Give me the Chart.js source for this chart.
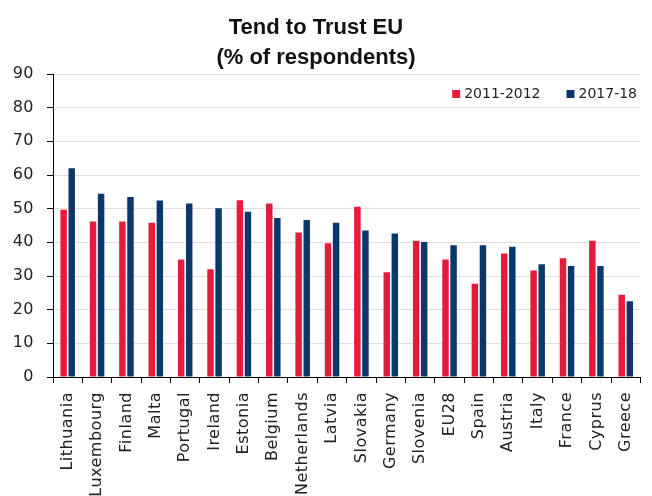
<!DOCTYPE html>
<html lang="en">
<head>
  <meta charset="UTF-8" />
  <title>Tend to Trust EU</title>
  <script src="https://cdn.jsdelivr.net/npm/chart.js"></script>
  <style>
    body {
      margin: 0;
      background: #ffffff;
    }

    .wrap {
      position: relative;
      width: 652px;
      height: 496px;
      overflow: hidden;
    }

    .title {
      position: absolute;
      left: 0;
      top: 12px;
      width: 632px;
      text-align: center;
      font-family: 'Liberation Sans', Arial, sans-serif;
      font-weight: bold;
      font-size: 22px;
      line-height: 30px;
      color: #111;
    }

    canvas {
      position: absolute;
      left: 0;
      top: 0;
    }
  </style>
</head>

<body>
  <div class="wrap">
    <canvas id="grafik" width="654" height="496"></canvas>
    <div class="title">Tend to Trust EU<br>(% of respondents)</div>
  </div>

  <script>
    const countries = ['Lithuania', 'Luxembourg', 'Finland', 'Malta', 'Portugal', 'Ireland', 'Estonia',
      'Belgium', 'Netherlands', 'Latvia', 'Slovakia', 'Germany', 'Slovenia', 'EU28', 'Spain',
      'Austria', 'Italy', 'France', 'Cyprus', 'Greece'];
    const trust2011 = [49.7, 46.2, 46.2, 45.8, 34.9, 32.0, 52.5, 51.5, 42.9, 39.7,
      50.6, 31.1, 40.5, 34.9, 27.7, 36.7, 31.6, 35.3, 40.5, 24.4];
    const trust2017 = [62.0, 54.4, 53.5, 52.4, 51.5, 50.1, 49.1, 47.2, 46.6, 45.8,
      43.5, 42.6, 40.1, 39.1, 39.1, 38.7, 33.5, 33.0, 33.0, 22.5];
    const yTicks = [0, 10, 20, 30, 40, 50, 60, 70, 80, 90];

    const RED = '#e31b3c';
    const BLUE = '#0b386b';

    // axis labels are drawn slightly spaced out
    const spacedText = {
      id: 'spacedText',
      beforeDraw(chart) {
        chart.ctx.letterSpacing = '0.5px';
      }
    };

    // legend sits inside the plot, top right
    const legendInside = {
      id: 'legendInside',
      afterDraw(chart) {
        const ctx = chart.ctx;
        const sets = chart.data.datasets;
        ctx.save();
        ctx.letterSpacing = '0px';
        ctx.font = '14px "DejaVu Sans"';
        ctx.textBaseline = 'middle';
        ctx.textAlign = 'left';
        let x = 637;
        const y = 94;
        for (let i = sets.length - 1; i >= 0; i--) {
          const w = ctx.measureText(sets[i].label).width;
          x -= w;
          ctx.fillStyle = '#222';
          ctx.fillText(sets[i].label, x, y);
          ctx.fillStyle = sets[i].backgroundColor;
          ctx.fillRect(x - 12, y - 4, 8, 8);
          x -= 12 + 26;
        }
        ctx.restore();
      }
    };

    const ctx = document.getElementById('grafik').getContext('2d');
    const chart = new Chart(ctx, {
      type: 'bar',
      data: {
        labels: countries,
        datasets: [
          {
            label: '2011-2012',
            data: trust2011,
            backgroundColor: RED,
            categoryPercentage: 0.55,
            barPercentage: 0.8
          },
          {
            label: '2017-18',
            data: trust2017,
            backgroundColor: BLUE,
            categoryPercentage: 0.55,
            barPercentage: 0.8
          }
        ]
      },
      options: {
        responsive: false,
        animation: false,
        layout: { padding: { top: 74, left: 0, right: 1, bottom: 0 } },
        scales: {
          x: {
            afterFit: (scale) => { scale.height = 119; },
            grid: {
              drawOnChartArea: false,
              drawTicks: true,
              tickLength: 6,
              tickColor: '#000'
            },
            border: { color: '#000', width: 1 },
            ticks: {
              minRotation: 90,
              maxRotation: 90,
              autoSkip: false,
              padding: 9,
              color: '#222',
              font: { family: 'DejaVu Sans', size: 16 }
            }
          },
          y: {
            min: 0,
            max: 90,
            afterFit: (scale) => { scale.width = 53; },
            afterBuildTicks: (scale) => { scale.ticks = yTicks.map(v => ({ value: v })); },
            grid: {
              color: '#dedede',
              tickLength: 6,
              tickColor: '#000'
            },
            border: { color: '#000', width: 1 },
            ticks: {
              padding: 13,
              color: '#222',
              font: { family: 'DejaVu Sans', size: 16 }
            }
          }
        },
        plugins: {
          legend: { display: false },
          tooltip: { enabled: false }
        }
      },
      plugins: [spacedText, legendInside]
    });
  </script>
</body>
</html>
